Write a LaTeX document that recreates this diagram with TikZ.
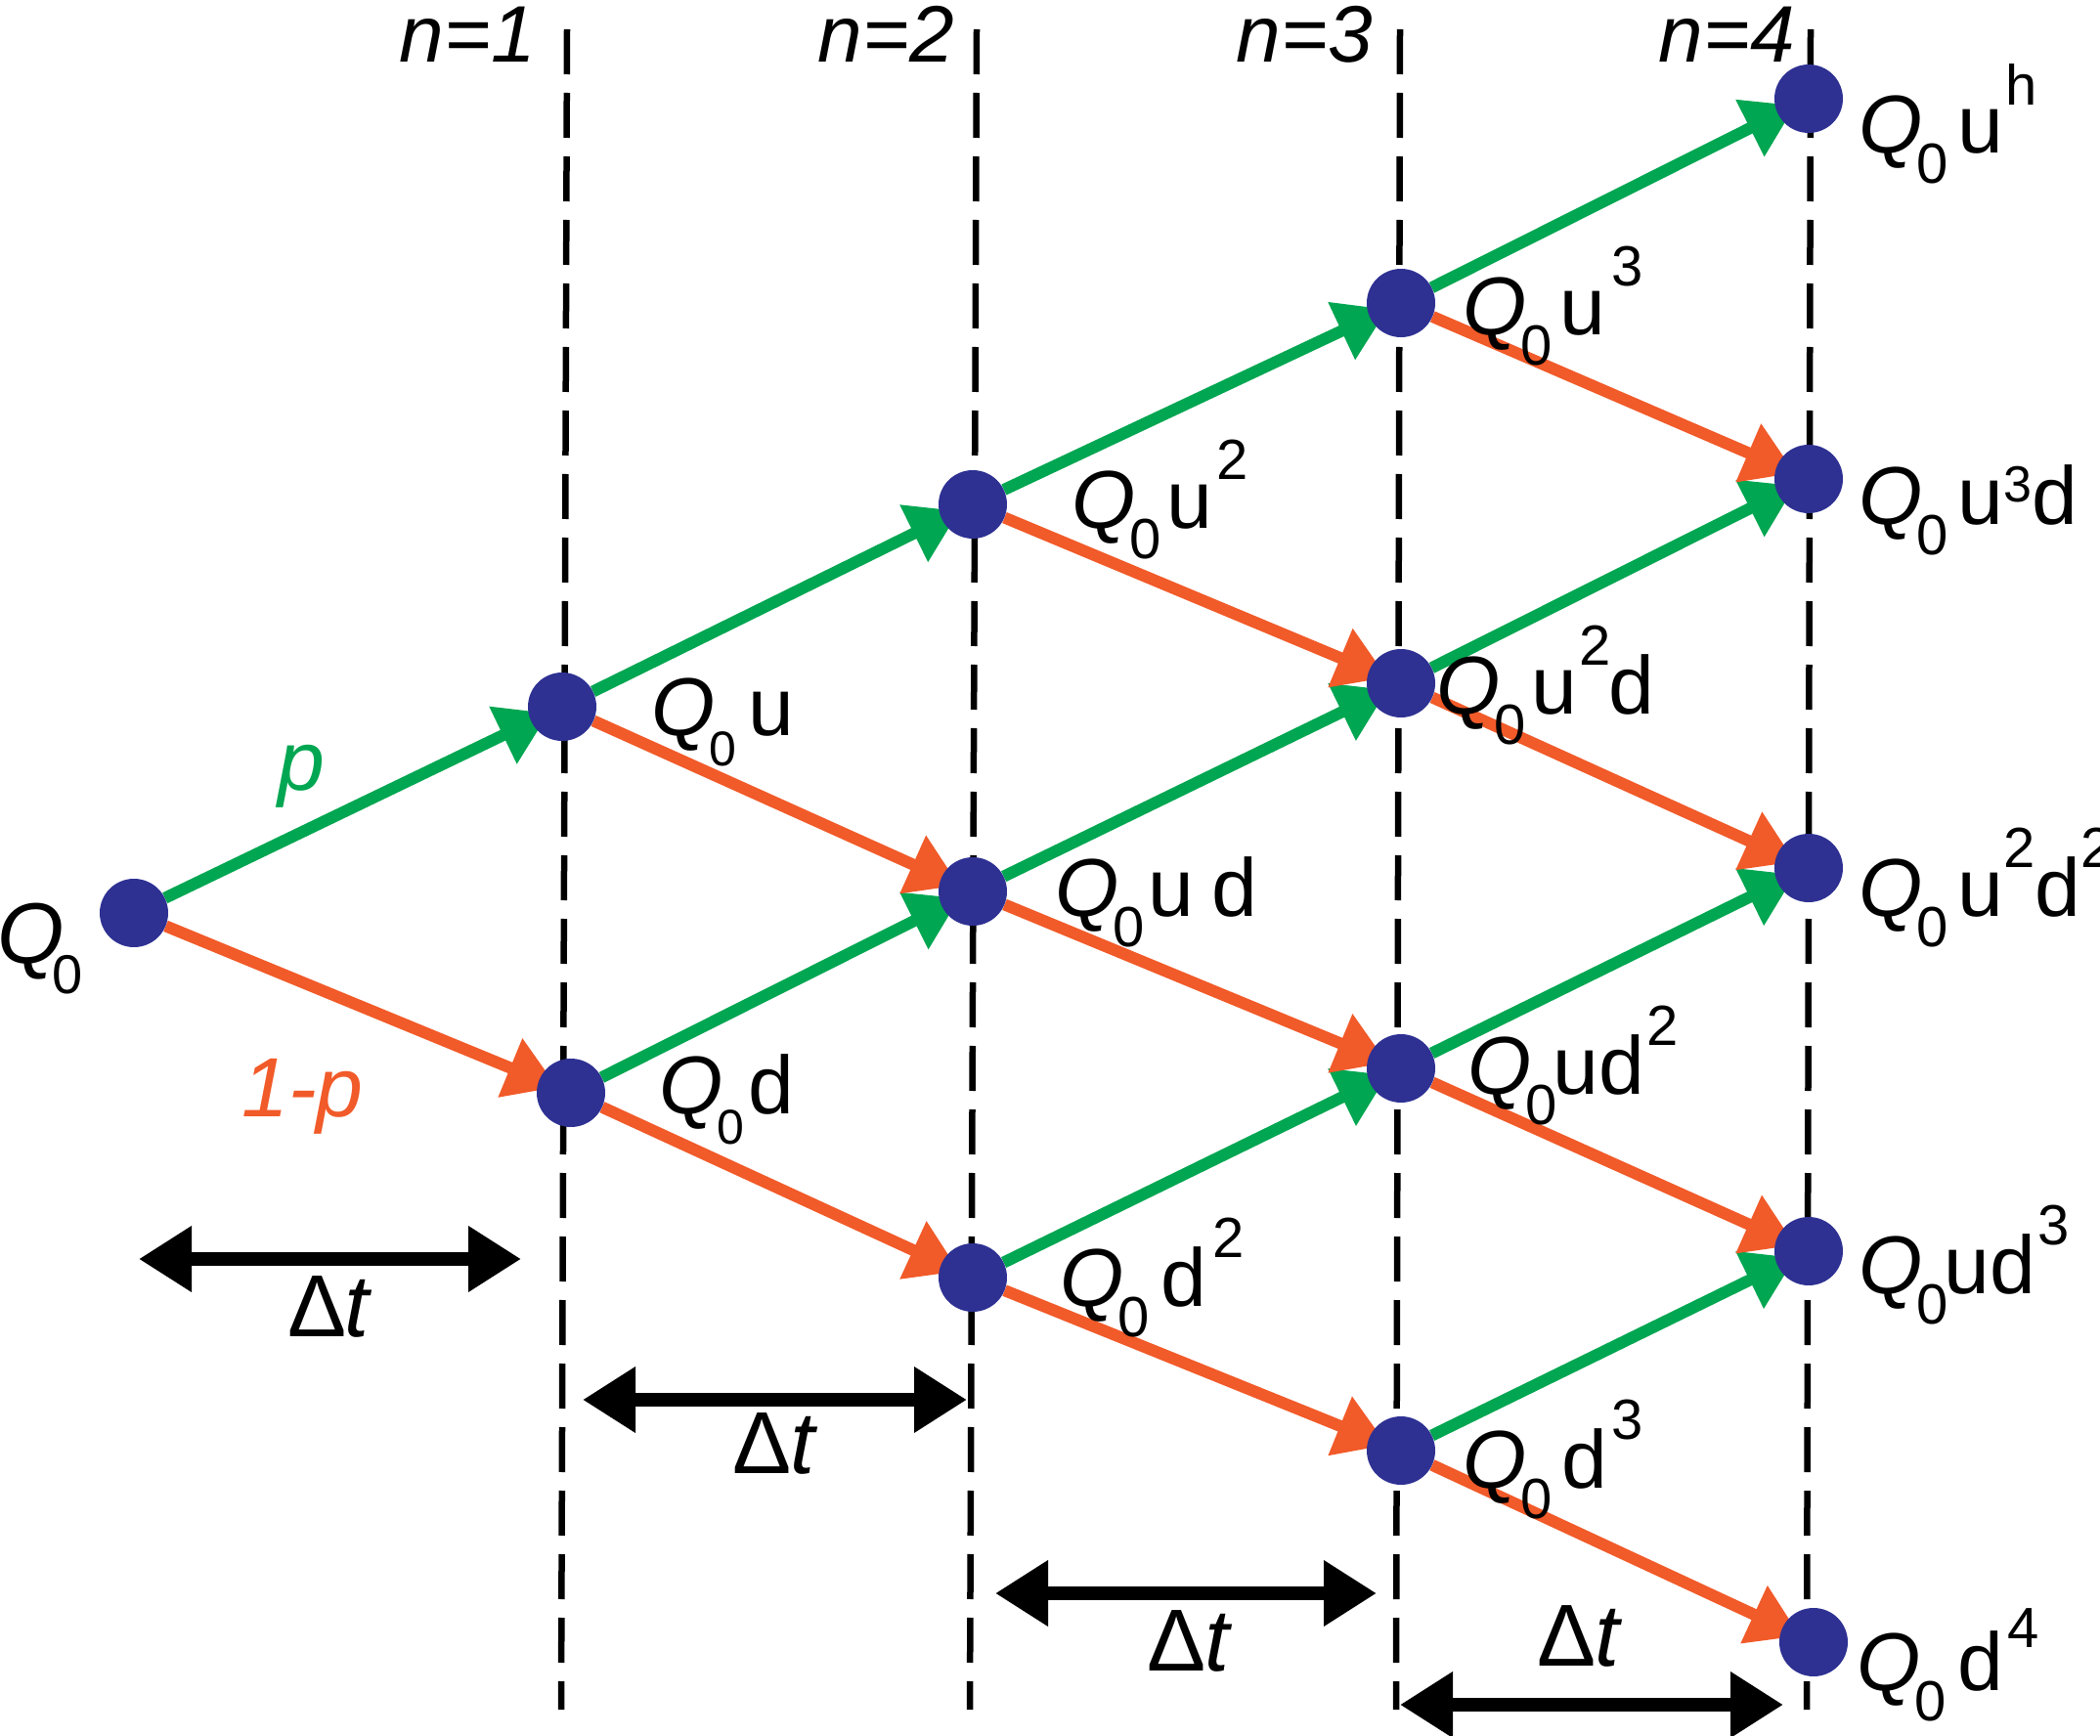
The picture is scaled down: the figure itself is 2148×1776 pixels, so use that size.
\documentclass[tikz,border=0pt]{standalone}
\usepackage{fontspec}
\setmainfont{Liberation Sans}
\usetikzlibrary{arrows.meta}
\pgfdeclarelayer{bg}
\pgfsetlayers{bg,main}
\definecolor{nodeblue}{RGB}{46,49,146}
\definecolor{upgreen}{RGB}{0,166,81}
\definecolor{downred}{RGB}{241,90,41}
\newcommand\lo[2][58]{\raisebox{-31pt}{\fontsize{#1}{#1}\selectfont #2}}
\newcommand\hi[2][50pt]{\raisebox{#1}{\fontsize{58}{58}\selectfont #2}}
\newcommand\Qz[1][58]{\textit{Q}\kern-6pt\lo[#1]{0}}
\begin{document}
\begin{tikzpicture}[x=1pt,y=-1pt,
  dotnode/.style={circle, fill=nodeblue, minimum size=70pt, inner sep=0pt},
  lbl/.style={anchor=base west, inner sep=0pt, font=\fontsize{84}{84}\selectfont},
  nlbl/.style={anchor=base east, inner sep=0pt, font=\fontsize{82}{82}\selectfont\itshape},
  dtlbl/.style={anchor=base, inner sep=0pt, font=\fontsize{90}{90}\selectfont},
  plbl/.style={anchor=base west, inner sep=0pt, font=\fontsize{86}{86}\selectfont\itshape},
  upar/.style={draw=upgreen, line width=12pt, -{Triangle[length=52pt,width=62pt]}, shorten >=-20pt},
  dnar/.style={draw=downred, line width=12pt, -{Triangle[length=52pt,width=62pt]}, shorten >=-20pt},
  vline/.style={draw=black, line width=6.5pt, dash pattern=on 46pt off 19pt},
  dtarrow/.style={draw=black, line width=14pt, {Triangle[length=54pt,width=64pt]}-{Triangle[length=54pt,width=64pt]}}
]
\useasboundingbox (0,0) rectangle (2148,1776);

% nodes
\node[dotnode] (N0) at (137,934) {};
\node[dotnode] (N1a) at (575,723) {};
\node[dotnode] (N1b) at (584,1118) {};
\node[dotnode] (N2a) at (995,516) {};
\node[dotnode] (N2b) at (995,912) {};
\node[dotnode] (N2c) at (995,1307) {};
\node[dotnode] (N3a) at (1433,310) {};
\node[dotnode] (N3b) at (1433,699) {};
\node[dotnode] (N3c) at (1433,1093) {};
\node[dotnode] (N3d) at (1433,1484) {};
\node[dotnode] (N4a) at (1850,101) {};
\node[dotnode] (N4b) at (1850,490) {};
\node[dotnode] (N4c) at (1850,888) {};
\node[dotnode] (N4d) at (1850,1280) {};
\node[dotnode] (N4e) at (1855,1680) {};

% dashed time lines
\coordinate (V1t) at (580,30);  \coordinate (V1b) at (574,1749);
\coordinate (V2t) at (999,30);  \coordinate (V2b) at (992,1749);
\coordinate (V3t) at (1432,30); \coordinate (V3b) at (1428,1749);
\coordinate (V4t) at (1852,30); \coordinate (V4b) at (1848,1749);

\begin{pgfonlayer}{bg}
\draw[vline] (V1t) -- (V1b);
\draw[vline] (V2t) -- (V2b);
\draw[vline] (V3t) -- (V3b);
\draw[vline] (V4t) -- (V4b);
% up moves
\draw[upar] (N0) -- (N1a);
\draw[upar] (N1a) -- (N2a);
\draw[upar] (N1b) -- (N2b);
\draw[upar] (N2a) -- (N3a);
\draw[upar] (N2b) -- (N3b);
\draw[upar] (N2c) -- (N3c);
\draw[upar] (N3a) -- (N4a);
\draw[upar] (N3b) -- (N4b);
\draw[upar] (N3c) -- (N4c);
\draw[upar] (N3d) -- (N4d);
% down moves
\draw[dnar] (N0) -- (N1b);
\draw[dnar] (N1a) -- (N2b);
\draw[dnar] (N1b) -- (N2c);
\draw[dnar] (N2a) -- (N3b);
\draw[dnar] (N2b) -- (N3c);
\draw[dnar] (N2c) -- (N3d);
\draw[dnar] (N3a) -- (N4b);
\draw[dnar] (N3b) -- (N4c);
\draw[dnar] (N3c) -- (N4d);
\draw[dnar] (N3d) -- (N4e);
\end{pgfonlayer}

% time step arrows
\coordinate (D1l) at (142,1288);  \coordinate (D1r) at (533,1288);
\coordinate (D2l) at (596,1432);  \coordinate (D2r) at (989,1432);
\coordinate (D3l) at (1018,1630); \coordinate (D3r) at (1408,1630);
\coordinate (D4l) at (1432,1744); \coordinate (D4r) at (1824,1744);
\draw[dtarrow] (D1l) -- (D1r);
\draw[dtarrow] (D2l) -- (D2r);
\draw[dtarrow] (D3l) -- (D3r);
\draw[dtarrow] (D4l) -- (D4r);
\node[dtlbl] (T1) at (338,1367) {Δ\kern-2pt\textit{t}};
\node[dtlbl] (T2) at (793,1507) {Δ\kern-2pt\textit{t}};
\node[dtlbl] (T3) at (1217,1709) {Δ\kern-2pt\textit{t}};
\node[dtlbl] (T4) at (1616,1704) {Δ\kern-2pt\textit{t}};

% step labels
\node[nlbl] (S1) at (548,64) {n=1};
\node[nlbl] (S2) at (976,64) {n=2};
\node[nlbl] (S3) at (1404,64) {n=3};
\node[nlbl] (S4) at (1836,64) {n=4};

% probabilities
\node[plbl, text=upgreen] (P) at (284,808) {p};
\node[plbl, text=downred] (Q) at (247,1142) {1-p};

% value labels
\node[lbl] (L0) at (-3,985) {\fontsize{88}{88}\selectfont\textit{Q}\kern-12pt\lo[56]{0}};
\node[lbl] (L1a) at (666,752) {\Qz[50]\kern12pt u};
\node[lbl] (L1b) at (674,1139) {\Qz[50]\kern4pt d};
\node[lbl] (L2a) at (1096,540) {\Qz\kern6pt u\kern4pt\hi{2}};
\node[lbl] (L2b) at (1079,937) {\Qz\kern4pt u\kern18pt d};
\node[lbl] (L2c) at (1084,1336) {\Qz\kern12pt d\kern6pt\hi{2}};
\node[lbl] (L3a) at (1496,343) {\Qz\kern8pt u\kern6pt\hi{3}};
\node[lbl] (L3b) at (1469,730) {\Qz\kern6pt u\kern2pt\hi{2}\kern-2pt d};
\node[lbl] (L3c) at (1501,1119) {\Qz\kern-4pt ud\kern2pt\hi{2}};
\node[lbl] (L3d) at (1496,1522) {\Qz\kern10pt d\kern4pt\hi{3}};
\node[lbl] (L4a) at (1901,157) {\Qz\kern10pt u\kern2pt\hi[49pt]{h}};
\node[lbl] (L4b) at (1901,536) {\Qz\kern10pt u{\raisebox{23pt}{\fontsize{52}{52}\selectfont 3}}d};
\node[lbl] (L4c) at (1901,937) {\Qz\kern10pt u\hi{2}d\hi{2}};
\node[lbl] (L4d) at (1901,1323) {\Qz\kern-4pt ud\kern2pt\hi{3}};
\node[lbl] (L4e) at (1899,1729) {\Qz\kern12pt d\kern4pt\hi[44pt]{4}};
\end{tikzpicture}
\end{document}
